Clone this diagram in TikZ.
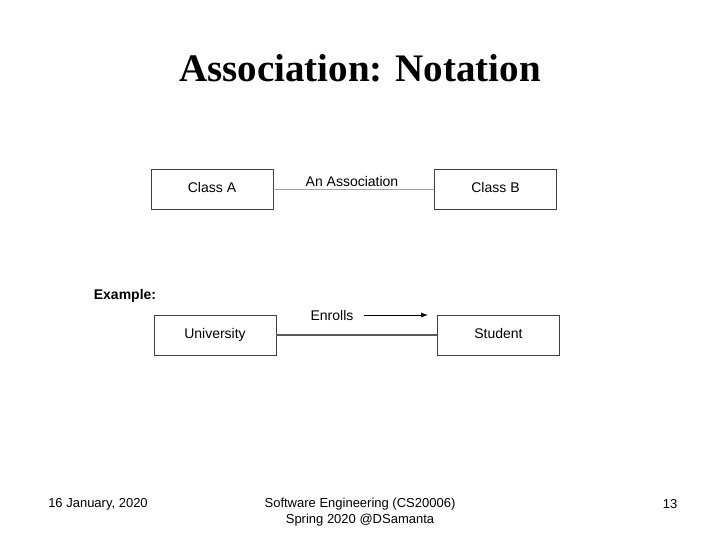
\documentclass[tikz,border=0pt]{standalone}
\usepackage{fontspec}
\setmainfont{Liberation Sans}
\newfontfamily\titlefont{Liberation Serif}
\usetikzlibrary{arrows.meta}
\begin{document}
\begin{tikzpicture}[x=1pt,y=-1pt,
  cls/.style={draw=black!75,line width=0.8pt,minimum width=122pt,minimum height=40pt,inner sep=0pt,text height=10pt,text depth=3pt,font=\fontsize{14}{16}\selectfont},
  lbl/.style={font=\fontsize{14}{16}\selectfont,inner sep=0pt},
  foot/.style={font=\fontsize{13}{16}\selectfont,inner sep=0pt,align=center}]
\useasboundingbox[fill=white] (0,0) rectangle (720,540);
\node[font=\titlefont\bfseries\fontsize{39}{44}\selectfont] (title) at (360,68) {Association: Notation};
\node[cls] (a) at (212,189) {Class A};
\node[cls] (b) at (495.5,189) {Class B};
\node[cls] (u) at (215,335) {University};
\node[cls] (s) at (498.5,335) {Student};
\draw[black!35,line width=0.8pt] (a) -- (b);
\draw[black!65,line width=1.2pt] (u) -- (s);
\node[lbl] (assoc) at (352,181) {An Association};
\node[lbl] (enr) at (332,315) {Enrolls};
\coordinate (ae) at (428,315);
\draw[line width=0.8pt,-{Latex[length=7pt,width=5pt]}] ([xshift=10pt]enr.east) -- (ae);
\node[lbl,font=\bfseries\fontsize{14}{16}\selectfont] (ex) at (125,296) {Example:};
\node[foot] (f1) at (98,504) {16 January, 2020};
\node[foot] (f2) at (360,512) {Software Engineering (CS20006)\\Spring 2020 @DSamanta};
\node[foot] (f3) at (670,504) {13};
\end{tikzpicture}
\end{document}
